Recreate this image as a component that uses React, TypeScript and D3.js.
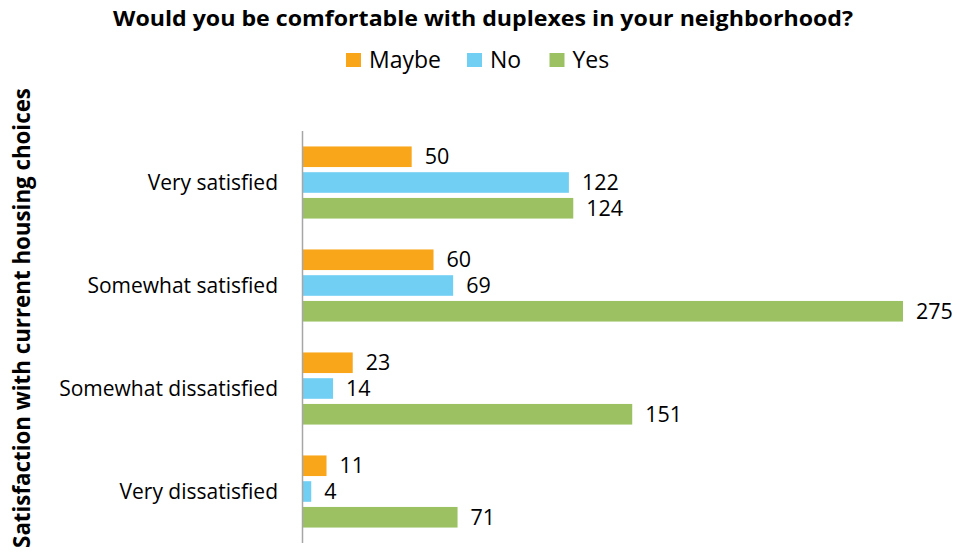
import React from "react";
import * as d3 from "d3";

const categories = ["Very satisfied", "Somewhat satisfied", "Somewhat dissatisfied", "Very dissatisfied"];
const seriesNames = ["Maybe", "No", "Yes"];
const maybeValues = [50, 60, 23, 11];
const noValues = [122, 69, 14, 4];
const yesValues = [124, 275, 151, 71];
const seriesColors = ["#F9A61B", "#72CFF4", "#9BC162"];

const W = 968;
const H = 554;
const FONT = "'Open Sans', sans-serif";

export default function App() {
  const values = [maybeValues, noValues, yesValues];
  const x = d3.scaleLinear().domain([0, 275]).range([302.5, 903]);
  const y0 = d3
    .scaleBand<string>()
    .domain(categories)
    .range([131, 543])
    .paddingInner(0.3)
    .paddingOuter(0.15);
  const y1 = d3
    .scaleBand<string>()
    .domain(seriesNames)
    .range([0, y0.bandwidth()])
    .paddingInner(0.2)
    .paddingOuter(0);

  const legendX = [346, 467, 549.5];

  return (
    <svg width={W} height={H} style={{ position: "absolute", left: 0, top: 0, background: "#fff" }}>
      <rect x={0} y={0} width={W} height={H} fill="#fff" />
      <text
        x={113}
        y={26}
        textLength={740}
        lengthAdjust="spacingAndGlyphs"
        fontFamily={FONT}
        fontWeight="bold"
        fontSize={20.5}
        fill="#000"
      >
        Would you be comfortable with duplexes in your neighborhood?
      </text>
      {seriesNames.map((s, i) => (
        <g key={s}>
          <rect x={legendX[i]} y={53} width={15} height={14} fill={seriesColors[i]} />
          <text x={legendX[i] + 23} y={67.5} fontFamily={FONT} fontSize={23} fill="#000">
            {s}
          </text>
        </g>
      ))}
      <text
        transform={`translate(30, 318) rotate(-90)`}
        textAnchor="middle"
        fontFamily={FONT}
        fontWeight="bold"
        fontSize={22.3}
        fill="#000"
      >
        Satisfaction with current housing choices
      </text>
      {categories.map((c, ci) => (
        <g key={c}>
          <text
            x={278}
            y={(y0(c) as number) + y0.bandwidth() / 2}
            dy="0.35em"
            textAnchor="end"
            fontFamily={FONT}
            fontSize={21}
            fill="#000"
          >
            {c}
          </text>
          {seriesNames.map((s, si) => {
            const v = values[si][ci];
            const yy = (y0(c) as number) + (y1(s) as number);
            return (
              <g key={s}>
                <rect x={x(0)} y={yy} width={x(v) - x(0)} height={y1.bandwidth()} fill={seriesColors[si]} />
                <text
                  x={x(v) + 13}
                  y={yy + y1.bandwidth() / 2}
                  dy="0.36em"
                  fontFamily={FONT}
                  fontSize={21.5}
                  fill="#000"
                >
                  {v}
                </text>
              </g>
            );
          })}
        </g>
      ))}
      <line x1={x(0)} x2={x(0)} y1={131} y2={543} stroke="#A6A6A6" strokeWidth={1.5} />
    </svg>
  );
}
